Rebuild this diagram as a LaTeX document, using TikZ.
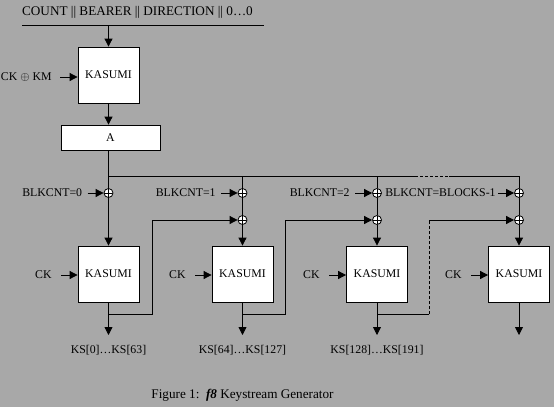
\documentclass[tikz,border=0pt]{standalone}
\usepackage{fontspec}
\setmainfont{Liberation Serif}
\usetikzlibrary{arrows.meta}
\definecolor{bg}{RGB}{168,168,168}
\begin{document}
\begin{tikzpicture}[x=1pt,y=-1pt,line width=0.8pt,
  >={Triangle[length=8pt,width=8pt]},
  font=\fontsize{11.8}{14}\selectfont,
  box/.style={draw,fill=white,minimum width=61pt,minimum height=56pt,inner sep=0pt},
  abox/.style={draw,fill=white,minimum width=99pt,minimum height=25pt,inner sep=0pt},
  xorn/.style={circle,draw,fill=white,minimum size=9pt,inner sep=0pt,
    path picture={\draw[line width=0.6pt] (path picture bounding box.north) -- (path picture bounding box.south)
      (path picture bounding box.west) -- (path picture bounding box.east);}},
  lbl/.style={inner sep=0pt},
  big/.style={inner sep=0pt,font=\fontsize{13.2}{15}\selectfont}]
\fill[bg] (0,0) rectangle (554,407);
\useasboundingbox (0,0) rectangle (554,407);

% top
\node[big] (title) at (137.5,12.5) {COUNT || BEARER || DIRECTION || 0…0};
\coordinate (tl) at (22,25);
\coordinate (tr) at (264,25);
\draw (tl) -- (tr);
\node[box] (k0) at (108.5,75) {KASUMI};
\coordinate (tin) at (108.5,25);
\draw[->] (tin) -- (k0.north);
\node[lbl,anchor=east] (ckkm) at (52,77) {CK $\oplus$ KM};
\draw[->] ([xshift=8pt]ckkm.east) -- (ckkm.east -| k0.west);
\node[abox] (A) at (110.5,137.5) {A};
\draw[->] (k0.south) -- (k0.south |- A.north);

% bus
\coordinate (j1) at (108.5,176);
\coordinate (j2) at (242.5,176);
\coordinate (j3) at (377,176);
\coordinate (da) at (415,176);
\coordinate (db) at (449,176);
\coordinate (j4) at (519,176);
\draw (k0.south |- A.south) -- (j1);
\draw (j1) -- (da);
\draw[dashed,dash pattern=on 3pt off 2pt] (da) -- (db);
\draw (db) -- (j4);

% xor circles
\node[xorn] (x1a) at (108.5,193) {};
\node[xorn] (x2a) at (242.5,193) {};
\node[xorn] (x2b) at (242.5,220) {};
\node[xorn] (x3a) at (377,193) {};
\node[xorn] (x3b) at (377,220) {};
\node[xorn] (x4a) at (519,193) {};
\node[xorn] (x4b) at (519,220) {};

% KASUMI boxes
\node[box] (k1) at (108.5,274) {KASUMI};
\node[box] (k2) at (242.5,274) {KASUMI};
\node[box] (k3) at (377,274) {KASUMI};
\node[box] (k4) at (519,274) {KASUMI};

% vertical paths
\draw (j1) -- (x1a.north);
\draw[->] (x1a.south) -- (k1.north);
\draw (j2) -- (x2a.north);
\draw (x2a.south) -- (x2b.north);
\draw[->] (x2b.south) -- (k2.north);
\draw (j3) -- (x3a.north);
\draw (x3a.south) -- (x3b.north);
\draw[->] (x3b.south) -- (k3.north);
\draw (j4) -- (x4a.north);
\draw (x4a.south) -- (x4b.north);
\draw[->] (x4b.south) -- (k4.north);

% BLKCNT labels
\node[lbl,anchor=east] (b1) at (82.5,193) {BLKCNT=0};
\node[lbl,anchor=east] (b2) at (216,193) {BLKCNT=1};
\node[lbl,anchor=east] (b3) at (350,193) {BLKCNT=2};
\node[lbl,anchor=east] (b4) at (496,193) {BLKCNT=BLOCKS-1};
\draw[->] ([xshift=5pt]b1.east) -- (x1a.west);
\draw[->] ([xshift=5pt]b2.east) -- (x2a.west);
\draw[->] ([xshift=5pt]b3.east) -- (x3a.west);
\draw[->] ([xshift=2pt]b4.east) -- (x4a.west);

% CK labels
\node[lbl,anchor=east] (c1) at (52,275) {CK};
\node[lbl,anchor=east] (c2) at (186,275) {CK};
\node[lbl,anchor=east] (c3) at (320,275) {CK};
\node[lbl,anchor=east] (c4) at (462,275) {CK};
\draw[->] ([xshift=9pt]c1.east) -- (c1.east -| k1.west);
\draw[->] ([xshift=9pt]c2.east) -- (c2.east -| k2.west);
\draw[->] ([xshift=9pt]c3.east) -- (c3.east -| k3.west);
\draw[->] ([xshift=9pt]c4.east) -- (c4.east -| k4.west);

% outputs
\coordinate (o1) at (108.5,335);
\coordinate (o2) at (242.5,335);
\coordinate (o3) at (377,335);
\coordinate (o4) at (519,335);
\draw[->] (k1.south) -- (o1);
\draw[->] (k2.south) -- (o2);
\draw[->] (k3.south) -- (o3);
\draw[->] (k4.south) -- (o4);

% feedback
\coordinate (f1) at (108.5,314);
\coordinate (f2) at (242.5,314);
\coordinate (f3) at (377,314);
\coordinate (t1) at (152,314);
\coordinate (t2) at (285,314);
\coordinate (t3) at (429,314);
\draw[->] (f1) -- (t1) |- (x2b.west);
\draw[->] (f2) -- (t2) |- (x3b.west);
\draw (f3) -- (t3);
\draw[dashed,dash pattern=on 3pt off 2pt] (t3) -- (t3 |- x4b);
\draw[->] (t3 |- x4b) -- (x4b.west);

% KS labels
\node[lbl] (ks1) at (108.5,350) {KS[0]…KS[63]};
\node[lbl] (ks2) at (242.5,350) {KS[64]…KS[127]};
\node[lbl] (ks3) at (377,350) {KS[128]…KS[191]};

% caption
\node[big] (cap) at (242.5,395) {Figure 1:\ \ \textbf{\textit{f8}} Keystream Generator};
\end{tikzpicture}
\end{document}
